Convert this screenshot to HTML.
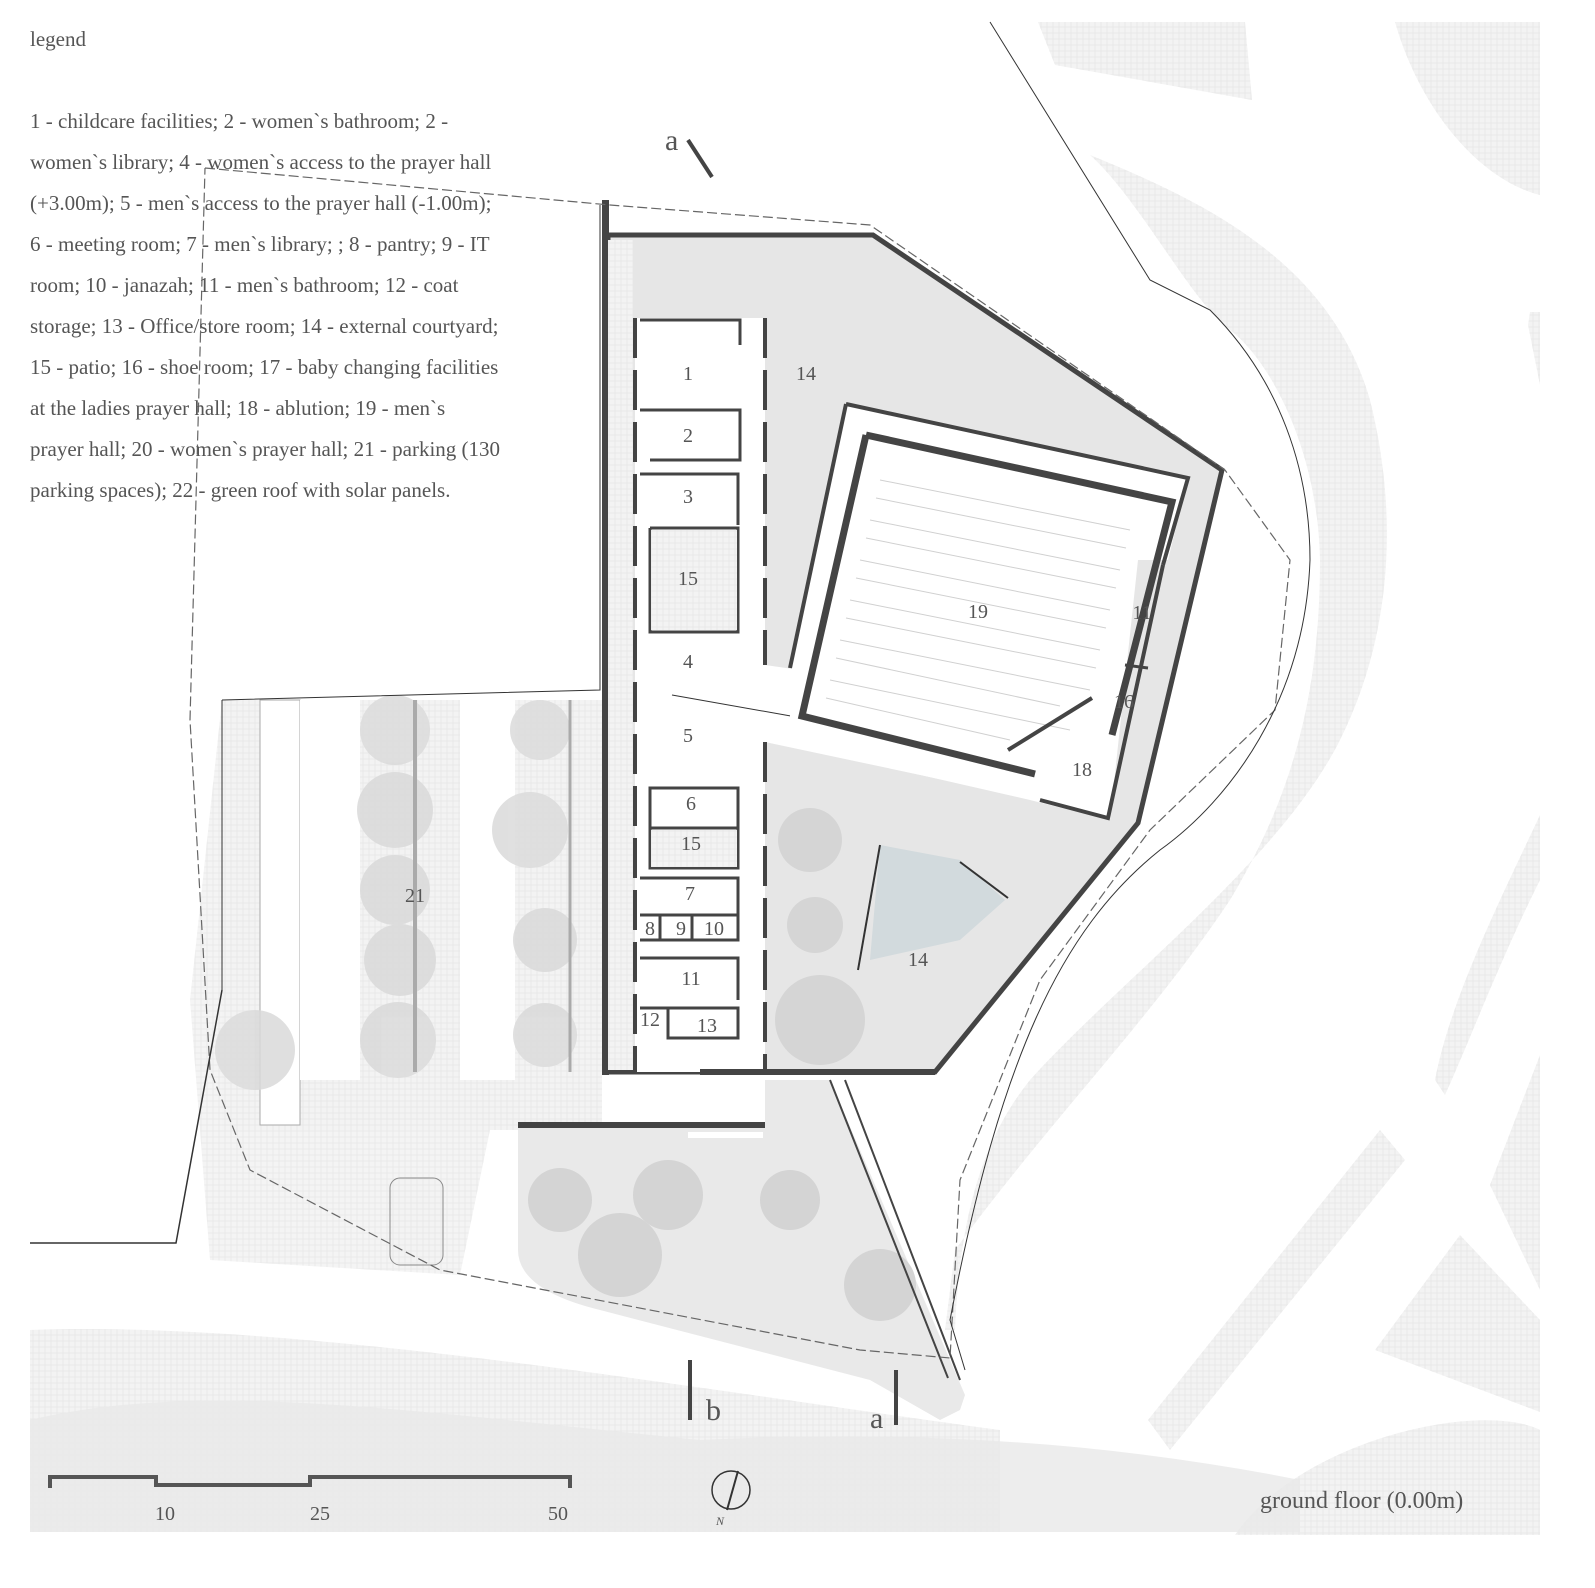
<!DOCTYPE html>
<html><head><meta charset="utf-8"><style>
html,body{margin:0;padding:0;background:#fff}
svg{display:block}
text{font-family:"Liberation Serif",serif;fill:#555}
</style></head><body>
<svg width="1595" height="1588" viewBox="0 0 1595 1588" xmlns="http://www.w3.org/2000/svg">
<defs>
<pattern id="hatch" width="6" height="6" patternUnits="userSpaceOnUse">
<rect width="6" height="6" fill="#f3f3f3"/><path d="M0 3H6M3 0V6" stroke="#e8e8e8" stroke-width="1"/>
</pattern>
</defs>
<!-- right background bands -->
<path d="M1038 22 L1245 22 L1252 100 L1055 65Z" fill="url(#hatch)"/>
<path d="M1395 22 L1540 22 L1540 195 C1480 180 1420 110 1395 22Z" fill="url(#hatch)"/>
<path d="M1530 312 L1540 312 L1540 385 L1528 325Z" fill="url(#hatch)"/>
<path d="M1090 155 C1200 200 1330 260 1370 400 C1400 520 1390 640 1340 740 C1280 860 1120 980 1030 1080 C990 1130 960 1200 955 1330 L945 1330 L955 1250 C1050 1120 1150 1020 1230 900 C1290 800 1320 700 1320 560 C1318 450 1270 360 1230 330 C1190 300 1140 200 1090 155Z" fill="url(#hatch)"/>
<path d="M1540 815 L1540 880 C1500 960 1470 1040 1445 1095 L1435 1080 C1450 1000 1500 900 1540 815Z" fill="url(#hatch)"/>
<path d="M1540 1055 L1540 1290 L1490 1185Z" fill="url(#hatch)"/>
<path d="M1380 1130 L1405 1160 L1170 1450 L1148 1420Z" fill="url(#hatch)"/>
<path d="M1375 1350 L1460 1235 L1540 1320 L1540 1412Z" fill="url(#hatch)"/>
<path d="M1235 1535 C1300 1440 1480 1400 1540 1430 L1540 1535Z" fill="url(#hatch)"/>
<!-- bottom band -->
<path d="M30 1330 C300 1320 700 1390 1000 1430 L1000 1532 L30 1532Z" fill="url(#hatch)"/>
<path d="M30 1420 C200 1380 400 1410 700 1440 C900 1430 1100 1440 1300 1480 L1300 1532 L30 1532Z" fill="#e8e8e8" opacity="0.8"/>
<!-- parking hatch area -->
<path d="M190 1000 L210 1260 L460 1275 L490 1130 L490 700 L222 700Z" fill="url(#hatch)" opacity="0.9"/>
<rect x="222" y="700" width="380" height="430" fill="url(#hatch)"/>
<rect x="260" y="700" width="40" height="425" fill="#fff" stroke="#aaa"/>
<rect x="300" y="700" width="60" height="380" fill="#fff"/>
<rect x="460" y="700" width="55" height="380" fill="#fff"/>
<g fill="#dadada" opacity="0.85">
<circle cx="395" cy="730" r="35"/><circle cx="395" cy="810" r="38"/><circle cx="395" cy="890" r="35"/><circle cx="400" cy="960" r="36"/><circle cx="398" cy="1040" r="38"/>
<circle cx="540" cy="730" r="30"/><circle cx="530" cy="830" r="38"/><circle cx="545" cy="940" r="32"/><circle cx="545" cy="1035" r="32"/>
<circle cx="255" cy="1050" r="40"/>
</g>
<line x1="415" y1="700" x2="415" y2="1072" stroke="#aaa" stroke-width="4"/>
<line x1="570" y1="700" x2="570" y2="1072" stroke="#aaa" stroke-width="3"/>
<line x1="222" y1="700" x2="222" y2="990" stroke="#333" stroke-width="1"/>
<!-- south garden -->
<path d="M518 1125 L765 1125 L765 1080 L830 1080 L965 1395 L960 1410 L940 1420 L870 1380 L600 1310 Q518 1290 518 1250Z" fill="#e9e9e9"/>
<g fill="#d4d4d4"><circle cx="560" cy="1200" r="32"/><circle cx="668" cy="1195" r="35"/><circle cx="790" cy="1200" r="30"/><circle cx="620" cy="1255" r="42"/><circle cx="880" cy="1285" r="36"/></g>
<rect x="518" y="1122" width="247" height="6" fill="#444"/>
<rect x="688" y="1132" width="75" height="6" fill="#fff"/>
<rect x="390" y="1178" width="53" height="87" rx="10" fill="url(#hatch)" stroke="#888"/>
<!-- building courtyard -->
<path d="M608 235 L873 235 L1222 470 L1138 823 L935 1072 L608 1072Z" fill="#e6e6e6"/>
<path d="M608 235 L873 235 L1222 470 L1138 823 L935 1072 L608 1072Z" fill="none" stroke="#444" stroke-width="5"/>
<rect x="602" y="200" width="7" height="875" fill="#444"/>
<rect x="608" y="240" width="25" height="830" fill="url(#hatch)"/>
<!-- corridor -->
<path d="M635 318 L765 318 L765 665 L800 670 L802 718 L1036 775 L1038 800 L765 742 L765 1072 L635 1072Z" fill="#fff"/>
<path d="M765 318 V665 M765 742 V1072 M635 318 V1072" stroke="#444" stroke-width="4" stroke-dasharray="40 12" fill="none"/>
<line x1="672" y1="695" x2="802" y2="718" stroke="#333" stroke-width="1"/>
<!-- prayer hall -->
<path d="M846 404 L1188 478 L1168 560 L1138 560 L1110 820 L1030 800 L790 745 L790 670 Z" fill="#fff"/>
<path d="M846 404 L1188 478 L1163 565" fill="none" stroke="#444" stroke-width="4"/>
<path d="M846 404 L790 668" fill="none" stroke="#444" stroke-width="4"/>
<path d="M1163 565 L1108 818 L1040 800" fill="none" stroke="#444" stroke-width="4"/>
<path d="M866 435 L1172 502 L1112 735" fill="none" stroke="#444" stroke-width="7"/>
<path d="M866 435 L802 716 L1035 774" fill="none" stroke="#444" stroke-width="7"/>
<g stroke="#d0d0d0" fill="none" stroke-width="1">
<path d="M880 480 L1130 530 M876 498 L1126 548 M870 520 L1120 570 M866 538 L1116 588 M860 560 L1110 610 M856 578 L1106 628 M850 600 L1100 650 M846 618 L1096 668 M840 640 L1090 690 M836 658 L1060 706 M830 680 L1070 730 M826 698 L1010 740"/>
</g>
<line x1="1008" y1="750" x2="1092" y2="698" stroke="#444" stroke-width="4"/>
<line x1="1125" y1="665" x2="1148" y2="668" stroke="#444" stroke-width="3"/>
<!-- rooms -->
<g fill="none" stroke="#444" stroke-width="3">
<path d="M640 320 H740 V345"/><path d="M640 410 H740 V460 H650"/><path d="M640 474 H738 V525"/><path d="M650 528 H738 V632 H650 V528"/>
<path d="M650 788 H738 V868 H650Z"/><path d="M650 828 H738"/><path d="M640 878 H738 V940 H640"/><path d="M640 915 H738"/>
<path d="M660 915 V940 M692 915 V940"/><path d="M640 958 H738 V1000"/><path d="M640 1008 H738 V1038 H668 V1008"/>
</g>
<rect x="651" y="530" width="86" height="100" fill="url(#hatch)"/>
<rect x="651" y="830" width="86" height="37" fill="url(#hatch)"/>
<!-- pond -->
<path d="M880 845 L960 860 L1005 900 L960 940 L870 960Z" fill="#c9d4d8" opacity="0.7"/>
<line x1="880" y1="845" x2="858" y2="970" stroke="#333" stroke-width="2"/>
<line x1="960" y1="862" x2="1008" y2="898" stroke="#333" stroke-width="2"/>
<g fill="#d5d5d5"><circle cx="810" cy="840" r="32"/><circle cx="815" cy="925" r="28"/><circle cx="820" cy="1020" r="45"/></g>
<!-- diagonal road walls -->
<path d="M830 1080 L948 1378 M845 1080 L960 1380" stroke="#444" stroke-width="2" fill="none"/>
<!-- site lines -->
<path d="M205 168 L610 205 L870 225 L1225 470 L1290 560 L1275 710 L1150 830 L1040 980 L960 1180 L950 1358 L860 1350 L440 1270 L250 1170 L210 1070 L190 720 L205 168" fill="none" stroke="#666" stroke-width="1.2" stroke-dasharray="10 4"/>
<path d="M990 22 L1150 280 L1210 310 C1280 380 1310 470 1310 560 C1305 700 1230 800 1160 850 C1060 930 1000 1060 950 1320 L965 1370" fill="none" stroke="#333" stroke-width="1"/>
<path d="M600 205 L600 690 L222 700" fill="none" stroke="#333" stroke-width="1"/>
<path d="M30 1243 L176 1243 L222 990" fill="none" stroke="#333" stroke-width="1.5"/>
<!-- walls bottom -->
<rect x="700" y="1069" width="235" height="6" fill="#444"/>
<!-- section marks -->
<line x1="688" y1="140" x2="712" y2="177" stroke="#444" stroke-width="4"/>
<line x1="690" y1="1360" x2="690" y2="1420" stroke="#444" stroke-width="4"/>
<line x1="896" y1="1370" x2="896" y2="1425" stroke="#444" stroke-width="4"/>
<text x="665" y="150" font-size="30">a</text>
<text x="706" y="1420" font-size="30">b</text>
<text x="870" y="1428" font-size="30">a</text>
<!-- scale -->
<path d="M50 1488 V1477 H156 V1485 H310 V1477 H570 V1488" fill="none" stroke="#555" stroke-width="4"/>
<text x="155" y="1520" font-size="20">10</text><text x="310" y="1520" font-size="20">25</text><text x="548" y="1520" font-size="20">50</text>
<circle cx="731" cy="1490" r="19" fill="none" stroke="#333" stroke-width="1.5"/>
<line x1="738" y1="1471" x2="727" y2="1510" stroke="#333" stroke-width="2"/>
<text x="716" y="1525" font-size="12" font-style="italic">N</text>
<!-- room labels -->
<g font-size="20" text-anchor="middle">
<text x="688" y="380">1</text><text x="688" y="442">2</text><text x="688" y="503">3</text><text x="688" y="585">15</text>
<text x="688" y="668">4</text><text x="688" y="742">5</text><text x="691" y="810">6</text><text x="691" y="850">15</text>
<text x="690" y="900">7</text><text x="650" y="935">8</text><text x="681" y="935">9</text><text x="714" y="935">10</text>
<text x="691" y="985">11</text><text x="650" y="1026">12</text><text x="707" y="1032">13</text>
<text x="806" y="380">14</text><text x="978" y="618">19</text><text x="1142" y="619">11</text><text x="1124" y="708">16</text>
<text x="1082" y="776">18</text><text x="918" y="966">14</text><text x="415" y="902">21</text>
</g>
<!-- legend -->
<g font-size="21">
<text x="30" y="46">legend</text>
<text x="30" y="128">1 - childcare facilities; 2 - women`s bathroom; 2 -</text>
<text x="30" y="169">women`s library; 4 - women`s access to the prayer hall</text>
<text x="30" y="210">(+3.00m); 5 - men`s access to the prayer hall (-1.00m);</text>
<text x="30" y="251">6 - meeting room; 7 - men`s library; ; 8 - pantry; 9 - IT</text>
<text x="30" y="292">room; 10 - janazah;  11 - men`s bathroom; 12 - coat</text>
<text x="30" y="333">storage; 13 - Office/store room; 14 - external courtyard;</text>
<text x="30" y="374">15 - patio; 16 - shoe room; 17 - baby changing facilities</text>
<text x="30" y="415">at the ladies prayer hall; 18 - ablution; 19 - men`s</text>
<text x="30" y="456">prayer hall; 20 - women`s prayer hall; 21 - parking (130</text>
<text x="30" y="497">parking spaces); 22 - green roof with solar panels.</text>
<text x="1260" y="1508" font-size="24">ground floor (0.00m)</text>
</g>
</svg>
</body></html>
